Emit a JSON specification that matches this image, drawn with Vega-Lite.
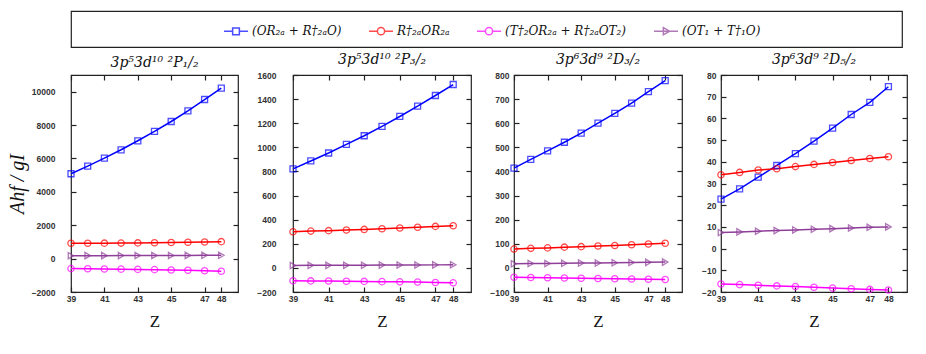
{
  "$schema": "https://vega.github.io/schema/vega-lite/v6.json",
  "padding": {"left": 6, "top": 7, "right": 5, "bottom": 5},
  "datasets": {
    "d": [
      {"p":"P1","s":"A","Z":39,"v":5085},{"p":"P1","s":"A","Z":40,"v":5544},{"p":"P1","s":"A","Z":41,"v":6022},{"p":"P1","s":"A","Z":42,"v":6520},{"p":"P1","s":"A","Z":43,"v":7059},{"p":"P1","s":"A","Z":44,"v":7617},{"p":"P1","s":"A","Z":45,"v":8215},{"p":"P1","s":"A","Z":46,"v":8853},{"p":"P1","s":"A","Z":47,"v":9531},{"p":"P1","s":"A","Z":48,"v":10209},
      {"p":"P1","s":"B","Z":39,"v":917},{"p":"P1","s":"B","Z":40,"v":920},{"p":"P1","s":"B","Z":41,"v":925},{"p":"P1","s":"B","Z":42,"v":930},{"p":"P1","s":"B","Z":43,"v":940},{"p":"P1","s":"B","Z":44,"v":950},{"p":"P1","s":"B","Z":45,"v":962},{"p":"P1","s":"B","Z":46,"v":978},{"p":"P1","s":"B","Z":47,"v":995},{"p":"P1","s":"B","Z":48,"v":1017},
      {"p":"P1","s":"C","Z":39,"v":-598},{"p":"P1","s":"C","Z":40,"v":-610},{"p":"P1","s":"C","Z":41,"v":-620},{"p":"P1","s":"C","Z":42,"v":-630},{"p":"P1","s":"C","Z":43,"v":-645},{"p":"P1","s":"C","Z":44,"v":-660},{"p":"P1","s":"C","Z":45,"v":-680},{"p":"P1","s":"C","Z":46,"v":-700},{"p":"P1","s":"C","Z":47,"v":-725},{"p":"P1","s":"C","Z":48,"v":-758},
      {"p":"P1","s":"D","Z":39,"v":175},{"p":"P1","s":"D","Z":40,"v":177},{"p":"P1","s":"D","Z":41,"v":179},{"p":"P1","s":"D","Z":42,"v":181},{"p":"P1","s":"D","Z":43,"v":184},{"p":"P1","s":"D","Z":44,"v":187},{"p":"P1","s":"D","Z":45,"v":190},{"p":"P1","s":"D","Z":46,"v":193},{"p":"P1","s":"D","Z":47,"v":197},{"p":"P1","s":"D","Z":48,"v":200},
      {"p":"P2","s":"A","Z":39,"v":821},{"p":"P2","s":"A","Z":40,"v":887},{"p":"P2","s":"A","Z":41,"v":953},{"p":"P2","s":"A","Z":42,"v":1025},{"p":"P2","s":"A","Z":43,"v":1096},{"p":"P2","s":"A","Z":44,"v":1174},{"p":"P2","s":"A","Z":45,"v":1256},{"p":"P2","s":"A","Z":46,"v":1342},{"p":"P2","s":"A","Z":47,"v":1430},{"p":"P2","s":"A","Z":48,"v":1521},
      {"p":"P2","s":"B","Z":39,"v":300},{"p":"P2","s":"B","Z":40,"v":305},{"p":"P2","s":"B","Z":41,"v":309},{"p":"P2","s":"B","Z":42,"v":314},{"p":"P2","s":"B","Z":43,"v":319},{"p":"P2","s":"B","Z":44,"v":325},{"p":"P2","s":"B","Z":45,"v":331},{"p":"P2","s":"B","Z":46,"v":337},{"p":"P2","s":"B","Z":47,"v":344},{"p":"P2","s":"B","Z":48,"v":350},
      {"p":"P2","s":"C","Z":39,"v":-107},{"p":"P2","s":"C","Z":40,"v":-108},{"p":"P2","s":"C","Z":41,"v":-109},{"p":"P2","s":"C","Z":42,"v":-111},{"p":"P2","s":"C","Z":43,"v":-112},{"p":"P2","s":"C","Z":44,"v":-114},{"p":"P2","s":"C","Z":45,"v":-116},{"p":"P2","s":"C","Z":46,"v":-118},{"p":"P2","s":"C","Z":47,"v":-121},{"p":"P2","s":"C","Z":48,"v":-124},
      {"p":"P2","s":"D","Z":39,"v":20},{"p":"P2","s":"D","Z":40,"v":21},{"p":"P2","s":"D","Z":41,"v":21},{"p":"P2","s":"D","Z":42,"v":22},{"p":"P2","s":"D","Z":43,"v":22},{"p":"P2","s":"D","Z":44,"v":23},{"p":"P2","s":"D","Z":45,"v":24},{"p":"P2","s":"D","Z":46,"v":24},{"p":"P2","s":"D","Z":47,"v":25},{"p":"P2","s":"D","Z":48,"v":26},
      {"p":"P3","s":"A","Z":39,"v":414},{"p":"P3","s":"A","Z":40,"v":450},{"p":"P3","s":"A","Z":41,"v":485},{"p":"P3","s":"A","Z":42,"v":521},{"p":"P3","s":"A","Z":43,"v":559},{"p":"P3","s":"A","Z":44,"v":600},{"p":"P3","s":"A","Z":45,"v":641},{"p":"P3","s":"A","Z":46,"v":683},{"p":"P3","s":"A","Z":47,"v":731},{"p":"P3","s":"A","Z":48,"v":777},
      {"p":"P3","s":"B","Z":39,"v":78},{"p":"P3","s":"B","Z":40,"v":81},{"p":"P3","s":"B","Z":41,"v":83},{"p":"P3","s":"B","Z":42,"v":86},{"p":"P3","s":"B","Z":43,"v":88},{"p":"P3","s":"B","Z":44,"v":91},{"p":"P3","s":"B","Z":45,"v":93},{"p":"P3","s":"B","Z":46,"v":96},{"p":"P3","s":"B","Z":47,"v":99},{"p":"P3","s":"B","Z":48,"v":102},
      {"p":"P3","s":"C","Z":39,"v":-39},{"p":"P3","s":"C","Z":40,"v":-40},{"p":"P3","s":"C","Z":41,"v":-41},{"p":"P3","s":"C","Z":42,"v":-42},{"p":"P3","s":"C","Z":43,"v":-43},{"p":"P3","s":"C","Z":44,"v":-44},{"p":"P3","s":"C","Z":45,"v":-45},{"p":"P3","s":"C","Z":46,"v":-46},{"p":"P3","s":"C","Z":47,"v":-47},{"p":"P3","s":"C","Z":48,"v":-48},
      {"p":"P3","s":"D","Z":39,"v":17},{"p":"P3","s":"D","Z":40,"v":18},{"p":"P3","s":"D","Z":41,"v":18},{"p":"P3","s":"D","Z":42,"v":19},{"p":"P3","s":"D","Z":43,"v":20},{"p":"P3","s":"D","Z":44,"v":20},{"p":"P3","s":"D","Z":45,"v":21},{"p":"P3","s":"D","Z":46,"v":22},{"p":"P3","s":"D","Z":47,"v":23},{"p":"P3","s":"D","Z":48,"v":24},
      {"p":"P4","s":"A","Z":39,"v":22.8},{"p":"P4","s":"A","Z":40,"v":27.5},{"p":"P4","s":"A","Z":41,"v":32.9},{"p":"P4","s":"A","Z":42,"v":38.3},{"p":"P4","s":"A","Z":43,"v":43.8},{"p":"P4","s":"A","Z":44,"v":49.5},{"p":"P4","s":"A","Z":45,"v":55.5},{"p":"P4","s":"A","Z":46,"v":61.8},{"p":"P4","s":"A","Z":47,"v":67.4},{"p":"P4","s":"A","Z":48,"v":74.6},
      {"p":"P4","s":"B","Z":39,"v":34.0},{"p":"P4","s":"B","Z":40,"v":35.1},{"p":"P4","s":"B","Z":41,"v":36.2},{"p":"P4","s":"B","Z":42,"v":36.8},{"p":"P4","s":"B","Z":43,"v":37.8},{"p":"P4","s":"B","Z":44,"v":38.8},{"p":"P4","s":"B","Z":45,"v":39.7},{"p":"P4","s":"B","Z":46,"v":40.6},{"p":"P4","s":"B","Z":47,"v":41.5},{"p":"P4","s":"B","Z":48,"v":42.3},
      {"p":"P4","s":"C","Z":39,"v":-16.3},{"p":"P4","s":"C","Z":40,"v":-16.6},{"p":"P4","s":"C","Z":41,"v":-16.9},{"p":"P4","s":"C","Z":42,"v":-17.2},{"p":"P4","s":"C","Z":43,"v":-17.5},{"p":"P4","s":"C","Z":44,"v":-17.8},{"p":"P4","s":"C","Z":45,"v":-18.2},{"p":"P4","s":"C","Z":46,"v":-18.5},{"p":"P4","s":"C","Z":47,"v":-18.8},{"p":"P4","s":"C","Z":48,"v":-19.1},
      {"p":"P4","s":"D","Z":39,"v":7.4},{"p":"P4","s":"D","Z":40,"v":7.7},{"p":"P4","s":"D","Z":41,"v":8.0},{"p":"P4","s":"D","Z":42,"v":8.3},{"p":"P4","s":"D","Z":43,"v":8.6},{"p":"P4","s":"D","Z":44,"v":8.9},{"p":"P4","s":"D","Z":45,"v":9.2},{"p":"P4","s":"D","Z":46,"v":9.5},{"p":"P4","s":"D","Z":47,"v":9.8},{"p":"P4","s":"D","Z":48,"v":10.0}
    ],
    "box": [{"k": 0}]
  },
  "vconcat": [
    {
      "width": 831,
      "height": 36,
      "data": {"name": "box"},
      "mark": {"type": "point", "opacity": 0},
      "encoding": {
        "y": {"datum": 0, "type": "quantitative", "axis": {"title": null, "labels": false, "ticks": false, "domain": false, "grid": false, "minExtent": 61}}
      }
    },
    {
      "hconcat": [
        {
          "width": 167, "height": 217,
          "title": "3p⁵3d¹⁰ ²P₁/₂",
          "data": {"name": "d"},
          "transform": [{"filter": "datum.p == 'P1'"}],
          "layer": [
            {"mark": {"type": "line", "strokeWidth": 1.5},
             "encoding": {
               "x": {"field": "Z", "type": "quantitative", "scale": {"domain": [39, 49]}, "axis": {"values": [39, 41, 43, 45, 47, 48], "title": "Z", "labelPadding": 7, "titlePadding": 11}},
               "y": {"field": "v", "type": "quantitative", "scale": {"domain": [-2000, 11000], "nice": false}, "axis": {"values": [-2000, 0, 2000, 4000, 6000, 8000, 10000], "format": "d", "title": "Ahf / gI", "titleFontSize": 20, "titleFontStyle": "italic", "labelPadding": 21, "titlePadding": 4}},
               "color": {"field": "s", "type": "nominal", "scale": {"domain": ["A", "B", "C", "D"]}}
             }},
            {"transform": [{"filter": "datum.s == 'A'"}],
             "mark": {"type": "point", "shape": "square", "filled": false, "strokeWidth": 1.3, "size": 36},
             "encoding": {"x": {"field": "Z", "type": "quantitative", "axis": null}, "y": {"field": "v", "type": "quantitative", "axis": null}, "color": {"field": "s", "type": "nominal"}}},
            {"transform": [{"filter": "datum.s == 'B' || datum.s == 'C'"}],
             "mark": {"type": "point", "shape": "circle", "filled": false, "strokeWidth": 1.3, "size": 40},
             "encoding": {"x": {"field": "Z", "type": "quantitative", "axis": null}, "y": {"field": "v", "type": "quantitative", "axis": null}, "color": {"field": "s", "type": "nominal"}}},
            {"transform": [{"filter": "datum.s == 'D'"}],
             "mark": {"type": "point", "shape": "triangle-right", "filled": false, "strokeWidth": 1.3, "size": 40},
             "encoding": {"x": {"field": "Z", "type": "quantitative", "axis": null}, "y": {"field": "v", "type": "quantitative", "axis": null}, "color": {"field": "s", "type": "nominal"}}},
            {"transform": [{"filter": "false"}],
             "mark": {"type": "point", "filled": false},
             "encoding": {
               "x": {"field": "Z", "type": "quantitative", "axis": null},
               "y": {"field": "v", "type": "quantitative", "axis": null},
               "color": {"field": "s", "type": "nominal",
                 "legend": {"labelExpr": "datum.value == 'A' ? '(OR₂ₐ + R†₂ₐO)' : datum.value == 'B' ? 'R†₂ₐOR₂ₐ' : datum.value == 'C' ? '(T†₂OR₂ₐ + R†₂ₐOT₂)' : '(OT₁ + T†₁O)'"}},
               "shape": {"field": "s", "type": "nominal",
                 "scale": {"domain": ["A", "B", "C", "D"], "range": ["M-1,0H-0.28M0.28,0H1M-0.28,-0.28H0.28V0.28H-0.28Z", "M-1,0H-0.3M0.3,0H1M0.3,0A0.3,0.3 0 1 1 -0.3,0A0.3,0.3 0 1 1 0.3,0", "M-1,0H-0.3M0.3,0H1M0.3,0A0.3,0.3 0 1 1 -0.3,0A0.3,0.3 0 1 1 0.3,0", "M-1,0H1M-0.22,-0.3L0.3,0L-0.22,0.3Z"]},
                 "legend": {"labelExpr": "datum.value == 'A' ? '(OR₂ₐ + R†₂ₐO)' : datum.value == 'B' ? 'R†₂ₐOR₂ₐ' : datum.value == 'C' ? '(T†₂OR₂ₐ + R†₂ₐOT₂)' : '(OT₁ + T†₁O)'"}}
             }},
            {"mark": {"type": "point", "opacity": 0},
             "encoding": {
               "x": {"field": "Z", "type": "quantitative", "axis": {"orient": "top", "values": [39, 41, 43, 45, 47, 48], "labels": false, "title": null}},
               "y": {"field": "v", "type": "quantitative", "axis": {"orient": "right", "values": [-2000, 0, 2000, 4000, 6000, 8000, 10000], "labels": false, "title": null, "minExtent": 0}}
             }}
          ],
          "resolve": {"axis": {"x": "independent", "y": "independent"}}
        },
        {
          "width": 178, "height": 217,
          "title": "3p⁵3d¹⁰ ²P₃/₂",
          "data": {"name": "d"},
          "transform": [{"filter": "datum.p == 'P2'"}],
          "layer": [
            {"mark": {"type": "line", "strokeWidth": 1.5},
             "encoding": {
               "x": {"field": "Z", "type": "quantitative", "scale": {"domain": [39, 49]}, "axis": {"values": [39, 41, 43, 45, 47, 48], "title": "Z", "labelPadding": 7, "titlePadding": 11}},
               "y": {"field": "v", "type": "quantitative", "scale": {"domain": [-200, 1600], "nice": false}, "axis": {"values": [-200, 0, 200, 400, 600, 800, 1000, 1200, 1400, 1600], "format": "d", "title": null, "labelPadding": 22}},
               "color": {"field": "s", "type": "nominal"}
             }},
            {"transform": [{"filter": "datum.s == 'A'"}],
             "mark": {"type": "point", "shape": "square", "filled": false, "strokeWidth": 1.3, "size": 36},
             "encoding": {"x": {"field": "Z", "type": "quantitative", "axis": null}, "y": {"field": "v", "type": "quantitative", "axis": null}, "color": {"field": "s", "type": "nominal"}}},
            {"transform": [{"filter": "datum.s == 'B' || datum.s == 'C'"}],
             "mark": {"type": "point", "shape": "circle", "filled": false, "strokeWidth": 1.3, "size": 40},
             "encoding": {"x": {"field": "Z", "type": "quantitative", "axis": null}, "y": {"field": "v", "type": "quantitative", "axis": null}, "color": {"field": "s", "type": "nominal"}}},
            {"transform": [{"filter": "datum.s == 'D'"}],
             "mark": {"type": "point", "shape": "triangle-right", "filled": false, "strokeWidth": 1.3, "size": 40},
             "encoding": {"x": {"field": "Z", "type": "quantitative", "axis": null}, "y": {"field": "v", "type": "quantitative", "axis": null}, "color": {"field": "s", "type": "nominal"}}},
            {"mark": {"type": "point", "opacity": 0},
             "encoding": {
               "x": {"field": "Z", "type": "quantitative", "axis": {"orient": "top", "values": [39, 41, 43, 45, 47, 48], "labels": false, "title": null}},
               "y": {"field": "v", "type": "quantitative", "axis": {"orient": "right", "values": [-200, 0, 200, 400, 600, 800, 1000, 1200, 1400, 1600], "labels": false, "title": null, "minExtent": 0}}
             }}
          ],
          "resolve": {"axis": {"x": "independent", "y": "independent"}}
        },
        {
          "width": 168, "height": 217,
          "title": "3p⁶3d⁹ ²D₃/₂",
          "data": {"name": "d"},
          "transform": [{"filter": "datum.p == 'P3'"}],
          "layer": [
            {"mark": {"type": "line", "strokeWidth": 1.5},
             "encoding": {
               "x": {"field": "Z", "type": "quantitative", "scale": {"domain": [39, 49]}, "axis": {"values": [39, 41, 43, 45, 47, 48], "title": "Z", "labelPadding": 7, "titlePadding": 11}},
               "y": {"field": "v", "type": "quantitative", "scale": {"domain": [-100, 800], "nice": false}, "axis": {"values": [-100, 0, 100, 200, 300, 400, 500, 600, 700, 800], "format": "d", "title": null, "labelPadding": 10}},
               "color": {"field": "s", "type": "nominal"}
             }},
            {"transform": [{"filter": "datum.s == 'A'"}],
             "mark": {"type": "point", "shape": "square", "filled": false, "strokeWidth": 1.3, "size": 36},
             "encoding": {"x": {"field": "Z", "type": "quantitative", "axis": null}, "y": {"field": "v", "type": "quantitative", "axis": null}, "color": {"field": "s", "type": "nominal"}}},
            {"transform": [{"filter": "datum.s == 'B' || datum.s == 'C'"}],
             "mark": {"type": "point", "shape": "circle", "filled": false, "strokeWidth": 1.3, "size": 40},
             "encoding": {"x": {"field": "Z", "type": "quantitative", "axis": null}, "y": {"field": "v", "type": "quantitative", "axis": null}, "color": {"field": "s", "type": "nominal"}}},
            {"transform": [{"filter": "datum.s == 'D'"}],
             "mark": {"type": "point", "shape": "triangle-right", "filled": false, "strokeWidth": 1.3, "size": 40},
             "encoding": {"x": {"field": "Z", "type": "quantitative", "axis": null}, "y": {"field": "v", "type": "quantitative", "axis": null}, "color": {"field": "s", "type": "nominal"}}},
            {"mark": {"type": "point", "opacity": 0},
             "encoding": {
               "x": {"field": "Z", "type": "quantitative", "axis": {"orient": "top", "values": [39, 41, 43, 45, 47, 48], "labels": false, "title": null}},
               "y": {"field": "v", "type": "quantitative", "axis": {"orient": "right", "values": [-100, 0, 100, 200, 300, 400, 500, 600, 700, 800], "labels": false, "title": null, "minExtent": 0}}
             }}
          ],
          "resolve": {"axis": {"x": "independent", "y": "independent"}}
        },
        {
          "width": 186, "height": 217,
          "title": "3p⁶3d⁹ ²D₅/₂",
          "data": {"name": "d"},
          "transform": [{"filter": "datum.p == 'P4'"}],
          "layer": [
            {"mark": {"type": "line", "strokeWidth": 1.5},
             "encoding": {
               "x": {"field": "Z", "type": "quantitative", "scale": {"domain": [39, 49]}, "axis": {"values": [39, 41, 43, 45, 47, 48], "title": "Z", "labelPadding": 7, "titlePadding": 11}},
               "y": {"field": "v", "type": "quantitative", "scale": {"domain": [-20, 80], "nice": false}, "axis": {"values": [-20, -10, 0, 10, 20, 30, 40, 50, 60, 70, 80], "format": "d", "title": null, "labelPadding": 10}},
               "color": {"field": "s", "type": "nominal"}
             }},
            {"transform": [{"filter": "datum.s == 'A'"}],
             "mark": {"type": "point", "shape": "square", "filled": false, "strokeWidth": 1.3, "size": 36},
             "encoding": {"x": {"field": "Z", "type": "quantitative", "axis": null}, "y": {"field": "v", "type": "quantitative", "axis": null}, "color": {"field": "s", "type": "nominal"}}},
            {"transform": [{"filter": "datum.s == 'B' || datum.s == 'C'"}],
             "mark": {"type": "point", "shape": "circle", "filled": false, "strokeWidth": 1.3, "size": 40},
             "encoding": {"x": {"field": "Z", "type": "quantitative", "axis": null}, "y": {"field": "v", "type": "quantitative", "axis": null}, "color": {"field": "s", "type": "nominal"}}},
            {"transform": [{"filter": "datum.s == 'D'"}],
             "mark": {"type": "point", "shape": "triangle-right", "filled": false, "strokeWidth": 1.3, "size": 40},
             "encoding": {"x": {"field": "Z", "type": "quantitative", "axis": null}, "y": {"field": "v", "type": "quantitative", "axis": null}, "color": {"field": "s", "type": "nominal"}}},
            {"mark": {"type": "point", "opacity": 0},
             "encoding": {
               "x": {"field": "Z", "type": "quantitative", "axis": {"orient": "top", "values": [39, 41, 43, 45, 47, 48], "labels": false, "title": null}},
               "y": {"field": "v", "type": "quantitative", "axis": {"orient": "right", "values": [-20, -10, 0, 10, 20, 30, 40, 50, 60, 70, 80], "labels": false, "title": null, "minExtent": 0}}
             }}
          ],
          "resolve": {"axis": {"x": "independent", "y": "independent"}}
        }
      ],
      "spacing": 16,
      "align": "none",
      "resolve": {"scale": {"x": "independent", "y": "independent", "color": "shared", "shape": "shared"}, "legend": {"color": "shared", "shape": "shared"}}
    }
  ],
  "spacing": 4,
  "config": {
    "view": {"stroke": "#222", "strokeWidth": 1.2},
    "range": {
      "category": ["#0000ff", "#ff0000", "#ff00ff", "#8f3f99"]
    },
    "axis": {
      "labelFont": "Liberation Sans", "labelFontSize": 8.5, "labelFontWeight": "bold", "labelColor": "#333", "labelFlush": false,
      "tickColor": "#222", "tickSize": -5, "tickWidth": 1.2, "domain": false, "grid": false,
      "titleFont": "Liberation Serif", "titleFontWeight": "normal", "titleFontSize": 17, "titleColor": "#111"
    },
    "title": {"font": "DejaVu Serif", "fontStyle": "italic", "fontWeight": "normal", "fontSize": 14, "offset": 4, "color": "#111"},
    "legend": {
      "orient": "none", "legendX": 152, "legendY": 7, "direction": "horizontal", "padding": 0,
      "title": null,
      "labelFont": "DejaVu Serif", "labelFontStyle": "italic", "labelFontSize": 12, "labelColor": "#111",
      "symbolSize": 576, "symbolStrokeWidth": 1.5, "columnPadding": 24, "labelOffset": 3
    }
  }
}
